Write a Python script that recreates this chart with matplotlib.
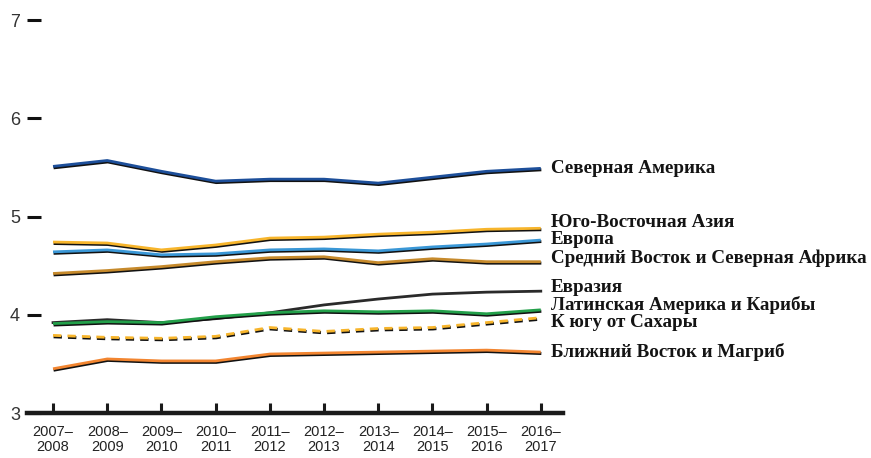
import matplotlib
matplotlib.use("Agg")
import matplotlib.pyplot as plt
import matplotlib.patheffects as pe

periods = ["2007–\n2008", "2008–\n2009", "2009–\n2010", "2010–\n2011", "2011–\n2012",
           "2012–\n2013", "2013–\n2014", "2014–\n2015", "2015–\n2016", "2016–\n2017"]

north_america = [5.51, 5.57, 5.46, 5.36, 5.38, 5.38, 5.34, 5.40, 5.46, 5.49]
se_asia = [4.74, 4.73, 4.66, 4.71, 4.78, 4.79, 4.82, 4.84, 4.87, 4.88]
europe = [4.64, 4.66, 4.61, 4.62, 4.66, 4.67, 4.65, 4.69, 4.72, 4.76]
mena = [4.42, 4.45, 4.49, 4.54, 4.58, 4.59, 4.53, 4.57, 4.54, 4.54]
eurasia = [3.92, 3.95, 3.92, 3.96, 4.02, 4.10, 4.16, 4.21, 4.23, 4.24]
latam = [3.91, 3.93, 3.92, 3.98, 4.02, 4.04, 4.03, 4.04, 4.01, 4.05]
subsahara = [3.79, 3.77, 3.76, 3.78, 3.87, 3.83, 3.86, 3.87, 3.92, 3.97]
maghreb = [3.45, 3.55, 3.53, 3.53, 3.60, 3.61, 3.62, 3.63, 3.64, 3.62]

labels = ["Северная Америка", "Юго-Восточная Азия", "Европа",
          "Средний Восток и Северная Африка", "Евразия",
          "Латинская Америка и Карибы", "К югу от Сахары", "Ближний Восток и Магриб"]
label_y = [5.49, 4.94, 4.77, 4.57, 4.28, 4.10, 3.92, 3.62]

fig = plt.figure(figsize=(8.71, 4.58), dpi=100)
ax = fig.add_axes([27/871, 45/458, 536/871, 393/458])

series = [
    (north_america, "#1d4f9a", "-"),
    (se_asia, "#f7b52c", "-"),
    (europe, "#3a97d6", "-"),
    (mena, "#c68a2c", "-"),
    (eurasia, "#2a2a2a", "-"),
    (latam, "#23a04a", "-"),
    (subsahara, "#f7b52c", (0, (3, 2.2))),
    (maghreb, "#f28530", "-"),
]

x = list(range(len(periods)))
shadow = [pe.Stroke(offset=(0.4, -1.0), linewidth=2.2, foreground="#111111"), pe.Normal()]
for vals, col, ls in series:
    if col == "#2a2a2a":
        ax.plot(x, vals, color=col, linestyle=ls, linewidth=2.0)
        continue
    ax.plot(x, vals, color=col, linestyle=ls, linewidth=2.0, path_effects=shadow,
            solid_capstyle="butt")

for txt, yv in zip(labels, label_y):
    ax.text(9.19, yv, txt, fontsize=13.7, fontweight="bold", family="Liberation Serif",
            va="center", ha="left", color="#141414", clip_on=False)

ax.set_xlim(-0.48, 9.41)
ax.set_ylim(3, 7)
ax.set_xticks(x)
ax.set_xticklabels(periods, family="Liberation Sans", fontsize=10.5, color="#222222",
                   linespacing=1.05)
ax.set_yticks([3, 4, 5, 6, 7])
ax.set_yticklabels(["3", "4", "5", "6", "7"], family="Liberation Sans", fontsize=13,
                   color="#333333")

for s in ["top", "right", "left"]:
    ax.spines[s].set_visible(False)
ax.spines["bottom"].set_linewidth(3.2)
ax.spines["bottom"].set_color("#1a1a1a")

ax.tick_params(axis="y", direction="in", length=10, width=2.2, pad=5, color="#111111")
ax.tick_params(axis="x", direction="in", length=7, width=2.2, pad=9, color="#1a1a1a")

fig.savefig("out.png", dpi=100)
